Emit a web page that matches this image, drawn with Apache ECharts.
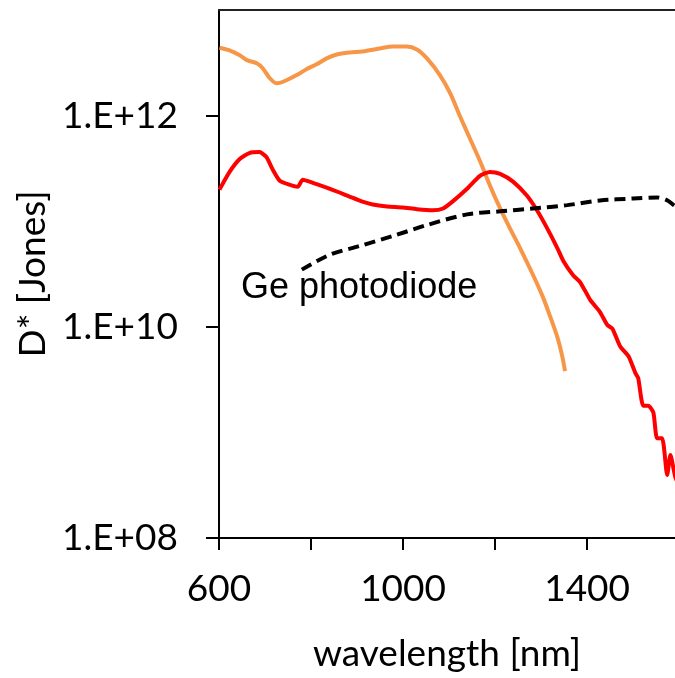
<!DOCTYPE html>
<html>
<head>
<meta charset="utf-8">
<script src="https://cdn.jsdelivr.net/npm/echarts@6/dist/echarts.min.js"></script>
<style>
  html, body { margin: 0; padding: 0; background: #fff; }
  #chart { width: 675px; height: 678px; }
</style>
</head>
<body>
<div id="chart"></div>
<script>
// Wavelength samples [nm] and specific detectivity D* [Jones] for each curve
const orangeWavelength = [601, 623, 645, 662, 682, 695, 710, 725, 738, 769, 790, 812, 834, 856, 884, 912, 949, 978, 1008, 1030, 1052, 1080, 1102, 1124, 1146, 1168, 1189, 1211, 1232, 1254, 1282, 1304, 1320, 1335, 1346, 1352];
const orangeDetectivity = [4.39e12, 4.14e12, 3.72e12, 3.33e12, 3.13e12, 2.81e12, 2.27e12, 2.03e12, 2.08e12, 2.42e12, 2.75e12, 3.06e12, 3.48e12, 3.79e12, 3.96e12, 4.05e12, 4.32e12, 4.51e12, 4.51e12, 4.23e12, 3.48e12, 2.42e12, 1.64e12, 9.8e11, 5.97e11, 3.64e11, 2.17e11, 1.32e11, 8.6e10, 5.6e10, 3.13e10, 1.91e10, 1.24e10, 8.07e9, 5.25e9, 3.8e9];

const redWavelength = [601, 623, 645, 666, 688, 703, 716, 732, 753, 771, 782, 804, 834, 862, 884, 910, 934, 965, 999, 1030, 1065, 1087, 1108, 1139, 1167, 1189, 1211, 1239, 1269, 1291, 1313, 1335, 1348, 1370, 1385, 1407, 1428, 1444, 1455, 1472, 1490, 1505, 1511, 1522, 1533, 1544, 1552, 1563, 1574, 1581, 1592, 1600];
const redDetectivity = [1.99e11, 2.93e11, 3.88e11, 4.42e11, 4.51e11, 4.05e11, 3.13e11, 2.42e11, 2.22e11, 2.12e11, 2.47e11, 2.31e11, 2.08e11, 1.87e11, 1.71e11, 1.54e11, 1.44e11, 1.38e11, 1.35e11, 1.30e11, 1.27e11, 1.32e11, 1.54e11, 2.03e11, 2.69e11, 2.93e11, 2.81e11, 2.37e11, 1.75e11, 1.27e11, 8.6e10, 5.6e10, 4.23e10, 3.06e10, 2.64e10, 1.79e10, 1.38e10, 1.04e10, 9.6e9, 6.5e9, 5.25e9, 3.64e9, 3.27e9, 1.79e9, 1.79e9, 1.54e9, 8.8e8, 8.8e8, 3.96e8, 6.1e8, 3.72e8, 3.2e8];

const geWavelength = [780, 841, 906, 978, 1052, 1139, 1211, 1282, 1357, 1428, 1500, 1552, 1574, 1592, 1600];
const geDetectivity = [3.48e10, 4.81e10, 5.83e10, 7.24e10, 9.2e10, 1.16e11, 1.24e11, 1.32e11, 1.42e11, 1.57e11, 1.64e11, 1.68e11, 1.58e11, 1.38e11, 1.32e11];

const xTickValues = [600, 800, 1000, 1200, 1400];
const xLabelValues = [600, 1000, 1400];
const yTickValues = [1e8, 1e10, 1e12];

const geLabel = 'Ge photodiode';

// visible wavelength window; the plot is cut off just before 1600 nm
const xMin = 600;
const xMax = 1591;

function pairs(xs, ys) {
  return xs.map((x, i) => [x, ys[i]]);
}

// spreadsheet-style scientific label, e.g. 1.E+08
function sciLabel(v) {
  const exp = Math.round(Math.log10(v));
  return '1.E+' + (exp < 10 ? '0' + exp : String(exp));
}

const labelFont = 'Lato';
const chart = echarts.init(document.getElementById('chart'), null, { renderer: 'canvas' });

chart.setOption({
  animation: false,
  backgroundColor: '#ffffff',
  grid: {
    left: 219,
    top: 10,
    bottom: 134,
    right: 0,
    show: false,
    containLabel: false
  },
  xAxis: [
    {
      type: 'value',
      min: xMin,
      max: xMax,
      name: 'wavelength [nm]',
      nameLocation: 'middle',
      nameGap: 98,
      nameTextStyle: { fontFamily: labelFont, fontSize: 37, color: '#000' },
      axisLine: { show: true, onZero: false, lineStyle: { color: '#000', width: 2 } },
      axisTick: { show: true, length: 12, customValues: xTickValues, lineStyle: { color: '#000', width: 2 } },
      axisLabel: {
        fontFamily: labelFont,
        fontSize: 37,
        color: '#000',
        margin: 33,
        customValues: xLabelValues,
        formatter: v => String(v)
      },
      splitLine: { show: false }
    },
    {
      // top frame line of the plot area
      type: 'value',
      position: 'top',
      min: xMin,
      max: xMax,
      axisLine: { show: true, onZero: false, lineStyle: { color: '#222', width: 2 } },
      axisTick: { show: false },
      axisLabel: { show: false },
      splitLine: { show: false }
    }
  ],
  yAxis: {
    type: 'log',
    logBase: 10,
    min: 1e8,
    max: 1e13,
    name: 'D* [Jones]',
    nameLocation: 'middle',
    nameGap: 163,
    nameRotate: 90,
    nameTextStyle: { fontFamily: labelFont, fontSize: 37, color: '#000' },
    axisLine: { show: true, lineStyle: { color: '#000', width: 2 } },
    axisTick: { show: true, length: 13, customValues: yTickValues, lineStyle: { color: '#000', width: 2 } },
    axisLabel: {
      fontFamily: labelFont,
      fontSize: 37,
      color: '#000',
      margin: 41,
      customValues: yTickValues,
      formatter: sciLabel
    },
    splitLine: { show: false },
    splitArea: { show: false },
    minorTick: { show: false },
    minorSplitLine: { show: false }
  },
  graphic: [{
    type: 'text',
    left: 241,
    top: 270,
    style: {
      text: geLabel,
      font: '36px "Liberation Sans", Arial, sans-serif',
      fill: '#000'
    }
  }],
  series: [
    {
      name: 'orange',
      type: 'line',
      data: pairs(orangeWavelength, orangeDetectivity),
      showSymbol: false,
      smooth: 0.3,
      lineStyle: { color: '#F79646', width: 4 },
      z: 3
    },
    {
      name: 'red',
      type: 'line',
      data: pairs(redWavelength, redDetectivity),
      showSymbol: false,
      smooth: 0.2,
      lineStyle: { color: '#FF0000', width: 4 },
      z: 4
    },
    {
      name: geLabel,
      type: 'line',
      data: pairs(geWavelength, geDetectivity),
      showSymbol: false,
      smooth: 0.3,
      lineStyle: { color: '#000', width: 4, type: [11, 6] },
      z: 5
    }
  ]
});
</script>
</body>
</html>
